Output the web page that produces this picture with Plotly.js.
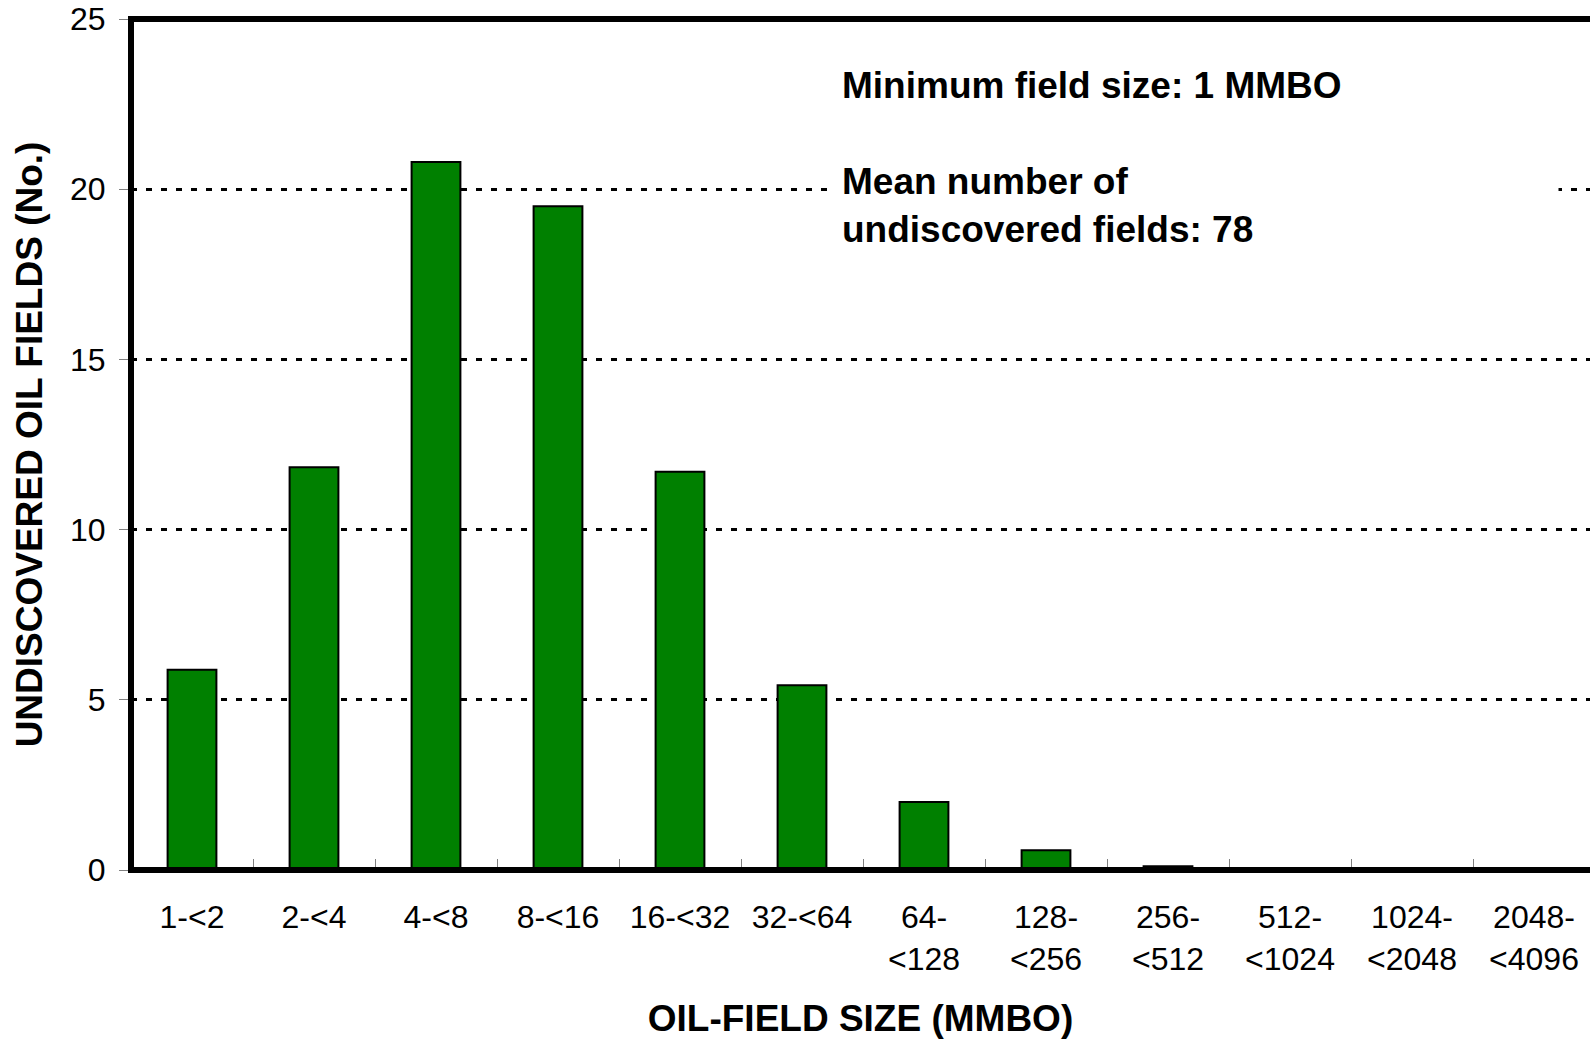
<!DOCTYPE html>
<html>
<head>
<meta charset="utf-8">
<script src="https://cdn.plot.ly/plotly-3.0.1.min.js"></script>
<style>html,body{margin:0;padding:0;background:#fff;} #chart{width:1590px;height:1039px;}</style>
</head>
<body>
<div id="chart"></div>
<script>
// ---- data ----
var categories = ["1-<2","2-<4","4-<8","8-<16","16-<32","32-<64","64-<128","128-<256","256-<512","512-<1024","1024-<2048","2048-<4096"];
var tickLabels = ["1-<2","2-<4","4-<8","8-<16","16-<32","32-<64","64-|<128","128-|<256","256-|<512","512-|<1024","1024-|<2048","2048-|<4096"];
var fieldCounts = [5.88, 11.83, 20.8, 19.5, 11.7, 5.43, 2.0, 0.58, 0.11, 0, 0, 0];
var yTickValues = [0, 5, 10, 15, 20, 25];
var xTitle = "OIL-FIELD SIZE (MMBO)";
var yTitle = "UNDISCOVERED OIL FIELDS (No.)";
var noteLines = ["Minimum field size: 1 MMBO", "", "Mean number of", "undiscovered fields: 78"];

var FONT = "Liberation Sans, Arial, Helvetica, sans-serif";
var tickText = tickLabels.map(function(s){ return s.replace(/</g, "&lt;").replace("|", "<br>"); });

var trace = {
  type: "bar",
  x: categories,
  y: fieldCounts,
  width: 0.4,
  marker: {color: "#008000", line: {color: "#000000", width: 2}},
  hoverinfo: "x+y"
};

var layout = {
  width: 1590,
  height: 1039,
  margin: {l: 131, r: 0, t: 19, b: 169, pad: 0},
  paper_bgcolor: "#ffffff",
  plot_bgcolor: "#ffffff",
  showlegend: false,
  font: {family: FONT, color: "#000000", size: 32},
  xaxis: {
    type: "category",
    range: [-0.5, -0.5 + 1459 / 122],
    tickmode: "array",
    tickvals: categories,
    ticktext: tickText,
    tickson: "boundaries",
    ticks: "inside",
    ticklen: 11,
    tickwidth: 1,
    tickcolor: "#808080",
    tickangle: 0,
    ticklabelstandoff: 25,
    tickfont: {family: FONT, size: 32, color: "#000000"},
    showgrid: false,
    zeroline: false,
    showline: false,
    title: {text: xTitle, font: {family: FONT, size: 37, weight: "bold", color: "#000000"}, standoff: 29},
    fixedrange: true
  },
  yaxis: {
    range: [0, 25],
    tickmode: "array",
    tickvals: yTickValues,
    ticktext: yTickValues.map(String),
    ticks: "outside",
    ticklen: 11,
    tickwidth: 1,
    tickcolor: "#808080",
    ticklabelstandoff: 7,
    tickfont: {family: FONT, size: 32, color: "#000000"},
    showgrid: true,
    gridcolor: "#000000",
    gridwidth: 3,
    griddash: "6px,9px",
    zeroline: false,
    showline: false,
    title: {text: yTitle, font: {family: FONT, size: 37, weight: "bold", color: "#000000"}, standoff: 16},
    fixedrange: true
  },
  shapes: [{
    type: "path",
    xref: "paper", yref: "paper",
    path: "M 1.02,1 L 0,1 L 0,0 L 1.02,0",
    line: {color: "#000000", width: 6},
    layer: "above"
  }],
  annotations: [{
    xref: "paper", yref: "paper",
    x: 0.4784, y: 0.8373,
    xanchor: "left", yanchor: "middle",
    align: "left",
    showarrow: false,
    width: 704,
    borderpad: 12,
    bgcolor: "#ffffff",
    text: noteLines.join("<br>"),
    font: {family: FONT, size: 37, weight: "bold", color: "#000000"}
  }]
};

Plotly.newPlot("chart", [trace], layout, {displayModeBar: false, staticPlot: true});
</script>
</body>
</html>
